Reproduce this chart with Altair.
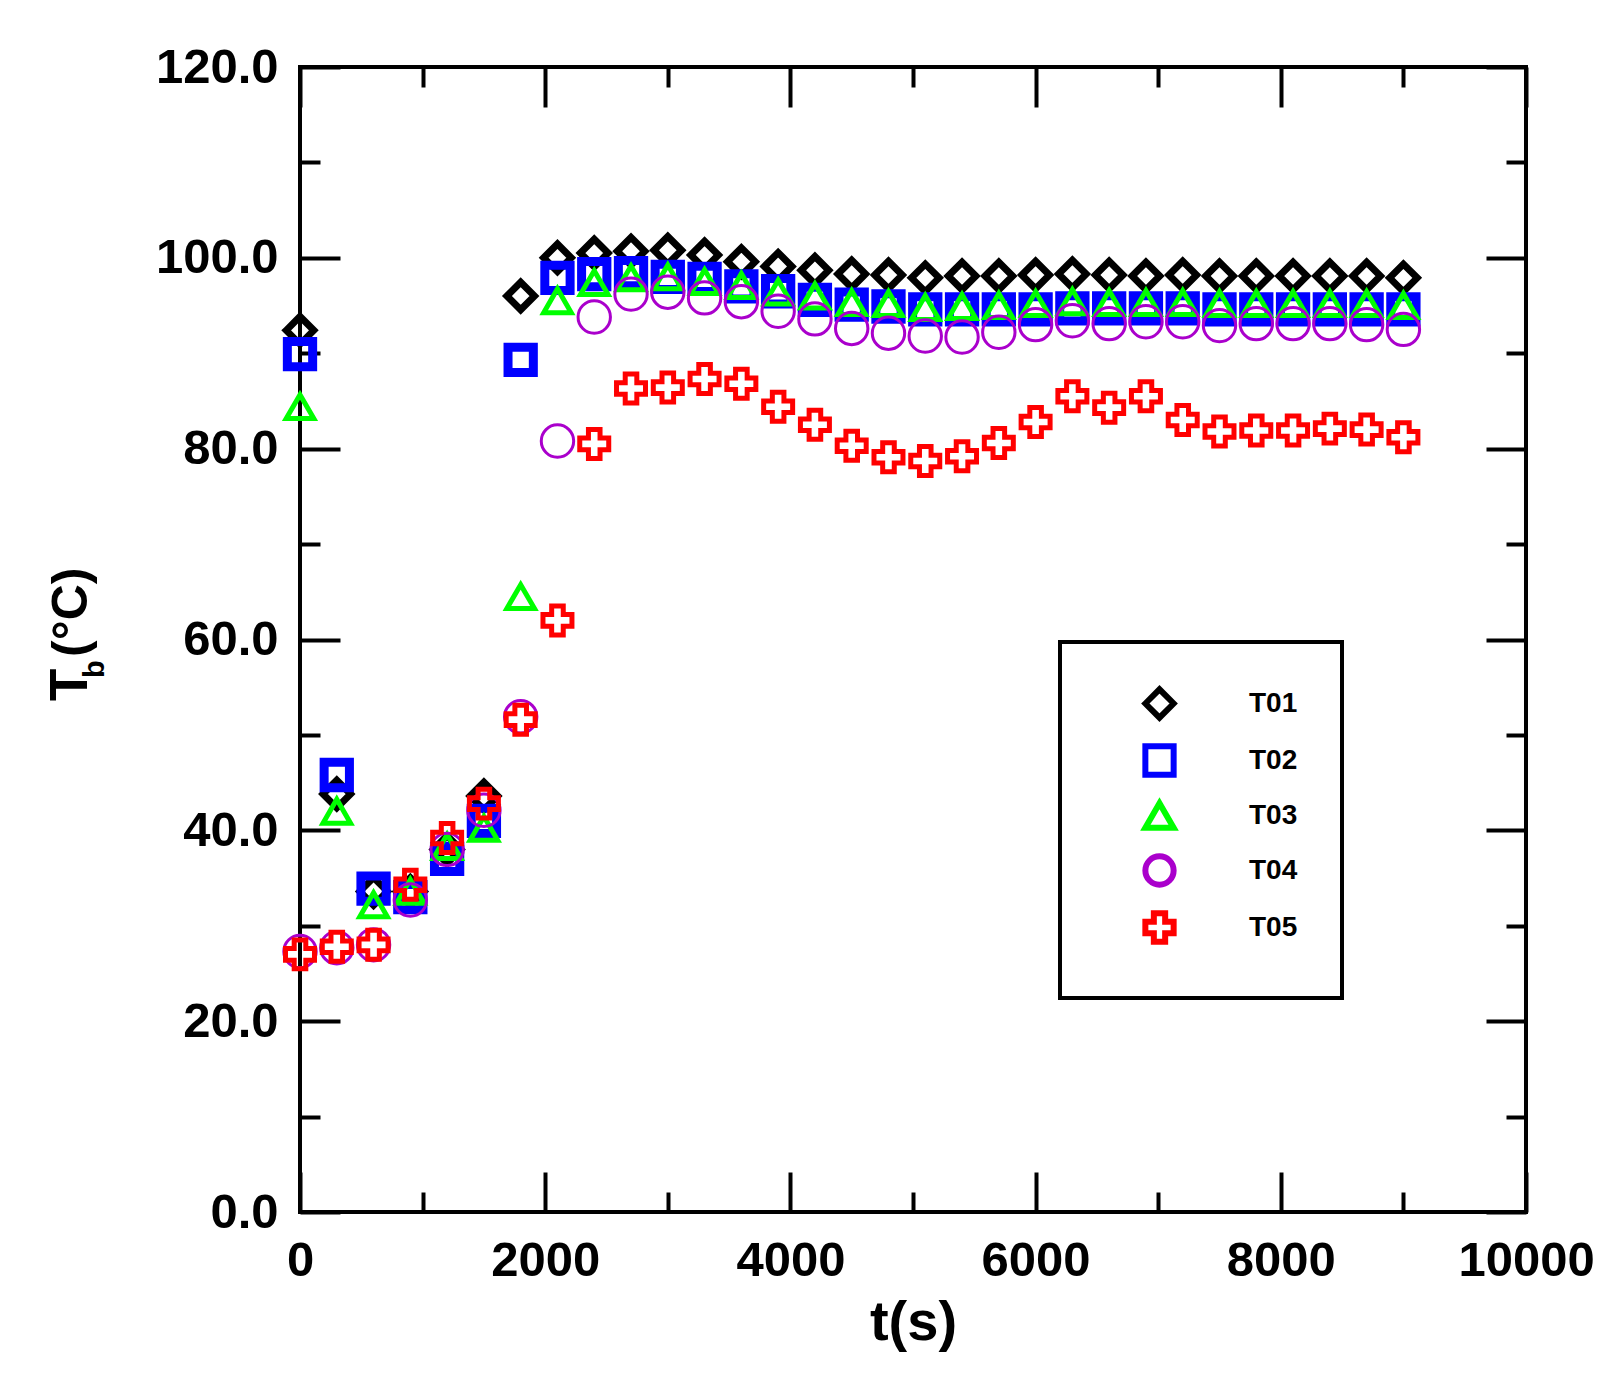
import altair as alt
import pandas as pd

# ---------------- data ----------------
t_s = [0, 300, 600, 900, 1200, 1500, 1800, 2100, 2400, 2700, 3000, 3300, 3600,
       3900, 4200, 4500, 4800, 5100, 5400, 5700, 6000, 6300, 6600, 6900, 7200,
       7500, 7800, 8100, 8400, 8700, 9000]

T01 = [92.4, 43.8, 33.6, 33.6, 38.0, 43.6, 96.0, 100.0, 100.5, 100.7, 100.8, 100.3,
       99.6, 99.1, 98.7, 98.3, 98.2, 97.9, 98.1, 98.1, 98.2, 98.3, 98.2, 98.1,
       98.2, 98.1, 98.1, 98.1, 98.1, 98.1, 97.9]
T02 = [89.9, 45.8, 33.9, 33.0, 37.0, 41.0, 89.3, 97.9, 98.3, 98.4, 98.0, 97.8,
       97.0, 96.5, 95.6, 95.1, 94.9, 94.6, 94.6, 94.6, 94.6, 94.7, 94.7, 94.7,
       94.7, 94.6, 94.6, 94.6, 94.6, 94.6, 94.6]
T03 = [84.4, 42.0, 32.2, 33.6, 38.3, 40.2, 64.5, 95.5, 97.4, 97.9, 98.0, 97.5,
       97.1, 96.4, 96.0, 95.3, 95.2, 94.8, 94.9, 95.0, 95.2, 95.4, 95.3, 95.3,
       95.3, 95.2, 95.2, 95.2, 95.2, 95.2, 95.0]
T04 = [27.3, 27.7, 28.0, 32.7, 38.0, 42.1, 51.9, 80.8, 93.8, 96.2, 96.4, 95.8,
       95.4, 94.4, 93.6, 92.6, 92.1, 91.8, 91.7, 92.2, 93.0, 93.4, 93.1, 93.3,
       93.3, 92.9, 93.1, 93.1, 93.1, 93.0, 92.5]
T05 = [27.0, 27.8, 28.0, 34.3, 39.2, 42.8, 51.6, 62.0, 80.5, 86.3, 86.4, 87.3,
       86.8, 84.4, 82.5, 80.3, 79.1, 78.7, 79.2, 80.6, 82.8, 85.5, 84.3, 85.5,
       83.0, 81.8, 81.9, 81.9, 82.1, 82.0, 81.2]

series_names = ["T01", "T02", "T03", "T04", "T05"]
series_values = [T01, T02, T03, T04, T05]

x_major = [0, 2000, 4000, 6000, 8000, 10000]
x_minor = [1000, 3000, 5000, 7000, 9000]
y_major = [0, 20, 40, 60, 80, 100, 120]
y_minor = [10, 30, 50, 70, 90, 110]

x_title = "t(s)"
y_title_parts = ["T", "b", "(°C)"]

# ---------------- styles ----------------
colors = ["#000000", "#0000FF", "#00FF00", "#AA00CC", "#FF0000"]
shapes = ["diamond", "square", "triangle-up", "circle", "cross"]
sizes = [760, 640, 760, 1050, 840]
strokes = [7, 9, 5, 3, 5]

FONT = "Liberation Sans"
W, H = 1226, 1145

rows = []
for name, vals in zip(series_names, series_values):
    for t, v in zip(t_s, vals):
        rows.append({"t": t, "Tb": v, "series": name})
df = pd.DataFrame(rows)

legend = alt.Legend(
    title=None, orient="none", legendX=760, legendY=575,
    padding=44, rowPadding=4, labelOffset=72, symbolOffset=38,
    strokeColor="black", fillColor="white",
    labelFont=FONT, labelFontSize=28, labelFontWeight="bold", labelColor="black",
    symbolSize=800, symbolStrokeWidth=6,
)

x_scale = alt.Scale(domain=[0, 10000], nice=False, zero=False)
y_scale = alt.Scale(domain=[0, 120], nice=False, zero=False)

def ax(orient, values, major, labels, fmt=None, title=None):
    kw = dict(orient=orient, values=values, tickSize=40 if major else 20,
              offset=-40 if major else -20, labels=labels, domain=False,
              grid=False, ticks=True, title=title)
    if fmt:
        kw["format"] = fmt
    return alt.Axis(**kw)

axes_cfg = [
    (ax("bottom", x_major, True, True, "d", x_title), ax("left", y_major, True, True, ".1f")),
    (ax("bottom", x_minor, False, False), ax("left", y_minor, False, False)),
    (ax("top", x_major, True, False), ax("right", y_major, True, False)),
    (ax("top", x_minor, False, False), ax("right", y_minor, False, False)),
    (None, None),
]

layers = []
for i, name in enumerate(series_names):
    xa, ya = axes_cfg[i]
    layer = alt.Chart(df).transform_filter(alt.datum.series == name).mark_point(
        filled=False, opacity=1, size=sizes[i], strokeWidth=strokes[i]
    ).encode(
        x=alt.X("t:Q", scale=x_scale, axis=xa),
        y=alt.Y("Tb:Q", scale=y_scale, axis=ya),
        color=alt.Color("series:N", scale=alt.Scale(domain=series_names, range=colors), legend=legend),
        shape=alt.Shape("series:N", scale=alt.Scale(domain=series_names, range=shapes), legend=legend),
    )
    layers.append(layer)

# y-axis title pieces (T with subscript b, then (°C)), rotated
title_specs = [
    (y_title_parts[0], 53, -213, 634),
    (y_title_parts[1], 29, -196, 611),
    (y_title_parts[2], 50, -213, 590),
]
for txt, fs, px, py in title_specs:
    layers.append(
        alt.Chart(pd.DataFrame({"label": [txt]})).mark_text(
            angle=270, align="left", baseline="alphabetic", font=FONT,
            fontSize=fs, fontWeight="bold", color="black"
        ).encode(text="label:N", x=alt.value(px), y=alt.value(py))
    )

chart = alt.layer(*layers).resolve_axis(
    x="independent", y="independent"
).properties(
    width=W, height=H,
    autosize=alt.AutoSizeParams(type="none"),
    padding={"left": 292, "top": 59, "right": 80, "bottom": 160},
).configure_view(
    stroke="black", strokeWidth=4
).configure_axis(
    labelFont=FONT, labelFontSize=49, labelFontWeight="bold", labelColor="black",
    labelPadding=22, labelFlush=False, labelOverlap=False,
    tickColor="black", tickWidth=4,
    titleFont=FONT, titleFontSize=56, titleFontWeight="bold", titleColor="black",
    titlePadding=10,
).configure_axisBottom(
    labelPadding=24
).configure_legend(
    strokeWidth=4
)

chart.save("out.html", embed_options={"renderer": "svg", "actions": False})
